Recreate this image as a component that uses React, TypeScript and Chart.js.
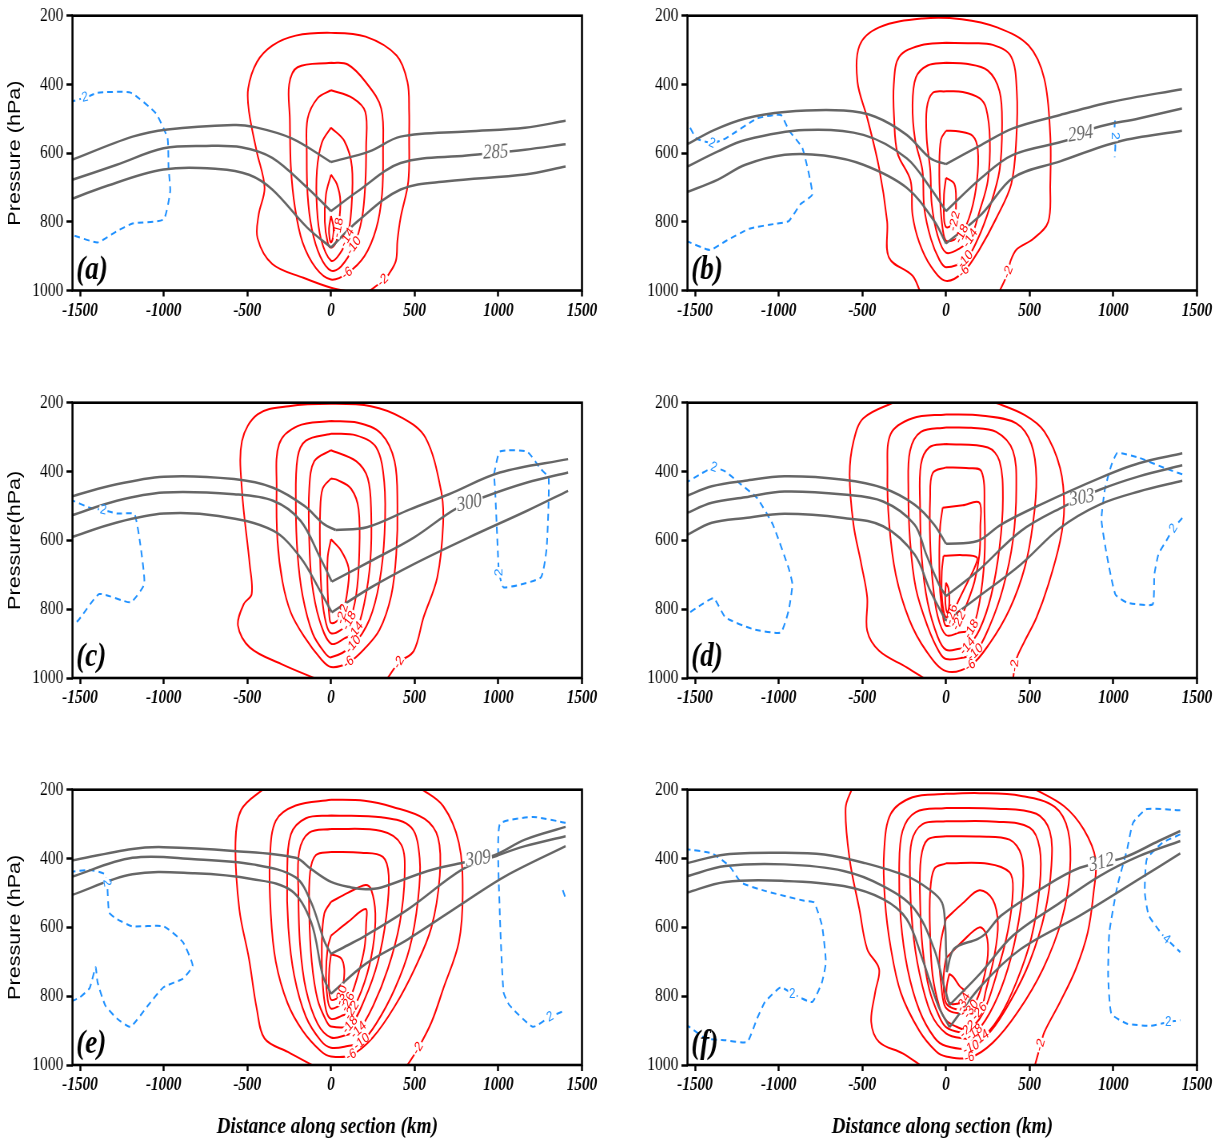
import React, { useEffect, useRef } from "react";
import { Chart, registerables } from "chart.js";

Chart.register(...registerables);

type Pt = [number, number]; // [distance km, pressure hPa]
type Label = [string, number, number, number]; // text, km, hPa, angle (deg)

const X_TICKS = [-1500, -1000, -500, 0, 500, 1000, 1500];
const P_TICKS = [200, 400, 600, 800, 1000];
const X_MIN = -1545;
const X_MAX = 1500;

// ---------- (a) ----------
const greyA: Pt[][] = [
  [[-1560, 622], [-1186, 552], [-977, 531], [-583, 518], [-467, 523], [-235, 557], [0, 626]],
  [[0, 626], [230, 595], [416, 552], [810, 537], [1159, 526], [1402, 506]],
  [[-1560, 680], [-1280, 634], [-1001, 586], [-745, 579], [-536, 583], [-351, 614], [-142, 701], [0, 769]],
  [[0, 769], [160, 711], [416, 629], [810, 607], [1159, 590], [1402, 574]],
  [[-1560, 736], [-1372, 701], [-1001, 648], [-676, 646], [-490, 663], [-351, 706], [-142, 817], [0, 875]],
  [[0, 875], [160, 798], [416, 706], [694, 682], [1159, 662], [1402, 639]],
];
const redA: Pt[][] = [
  [[125, 1005], [0, 992], [-165, 963], [-351, 923], [-439, 848], [-432, 778], [-397, 701], [-444, 595], [-490, 480], [-495, 412], [-443, 335], [-351, 287], [-211, 258], [0, 250], [207, 261], [392, 316], [457, 393], [467, 480], [467, 547], [462, 682], [416, 788], [397, 855], [388, 913], [346, 952], [311, 971], [220, 1005]],
  [[0, 337], [-200, 350], [-250, 400], [-246, 500], [-240, 640], [-215, 760], [-170, 860], [-90, 935], [0, 968], [97, 950], [200, 900], [270, 820], [305, 720], [311, 600], [300, 470], [207, 393], [100, 342], [0, 337]],
  [[0, 417], [-80, 440], [-140, 500], [-145, 600], [-140, 720], [-115, 820], [-65, 900], [0, 942], [60, 930], [137, 870], [185, 790], [205, 690], [210, 580], [205, 480], [130, 440], [0, 417]],
  [[0, 526], [-55, 570], [-84, 650], [-84, 760], [-60, 850], [0, 913], [50, 895], [97, 846], [122, 760], [125, 640], [80, 565], [0, 526]],
  [[0, 663], [-30, 720], [-37, 800], [-20, 860], [0, 875], [30, 860], [44, 817], [56, 740], [35, 690], [0, 663]],
  [[0, 783], [-12, 820], [-8, 850], [0, 860], [12, 845], [15, 815], [0, 783]],
];
const blueA: Pt[][] = [
  [[-1560, 451], [-1453, 436], [-1395, 424], [-1198, 424], [-1047, 484], [-977, 557], [-971, 643], [-961, 711], [-1000, 793], [-1186, 805], [-1279, 827], [-1395, 860], [-1560, 836]],
];
const redLabA: Label[] = [["-18", 44, 817, -80], ["-14", 97, 846, -62], ["-10", 137, 870, -55], ["-6", 97, 950, -40], ["-2", 311, 971, -45]];
const greyLabA: Label[] = [["285", 985, 598, -4]];
const blueLabA: Label[] = [["2", -1470, 438, -15]];

// ---------- (b) ----------
const greyB: Pt[][] = [
  [[-1560, 578], [-1387, 533], [-1199, 499], [-964, 480], [-611, 476], [-423, 494], [-235, 547], [-94, 615], [0, 632]],
  [[0, 632], [212, 576], [400, 528], [682, 489], [987, 451], [1410, 414]],
  [[-1560, 643], [-1363, 595], [-1199, 562], [-846, 533], [-494, 547], [-235, 615], [-94, 701], [0, 769]],
  [[0, 769], [212, 672], [400, 605], [729, 562], [893, 526], [1152, 499], [1410, 470]],
  [[-1560, 716], [-1363, 677], [-1199, 634], [-964, 605], [-729, 607], [-494, 634], [-235, 701], [-70, 798], [0, 863]],
  [[0, 863], [212, 778], [400, 672], [682, 624], [1034, 566], [1410, 535]],
];
const redB: Pt[][] = [
  [[-153, 1005], [-200, 957], [-341, 904], [-352, 798], [-400, 643], [-470, 499], [-529, 393], [-517, 287], [-400, 234], [-141, 208], [94, 210], [305, 234], [494, 287], [587, 383], [623, 547], [623, 692], [611, 800], [520, 850], [423, 880], [385, 915], [371, 947], [317, 1005]],
  [[0, 279], [-150, 286], [-280, 320], [-312, 400], [-310, 500], [-290, 600], [-212, 680], [-200, 780], [-160, 860], [-90, 930], [0, 972], [106, 945], [200, 880], [300, 790], [390, 690], [420, 560], [423, 420], [390, 320], [280, 285], [150, 280], [0, 279]],
  [[0, 337], [-110, 345], [-180, 380], [-200, 460], [-185, 560], [-141, 650], [-130, 760], [-90, 850], [-40, 910], [0, 932], [117, 910], [190, 850], [260, 760], [320, 650], [335, 520], [320, 420], [250, 360], [120, 340], [0, 337]],
  [[0, 420], [-80, 425], [-115, 470], [-115, 560], [-94, 650], [-85, 750], [-50, 840], [0, 890], [80, 878], [146, 848], [200, 770], [250, 680], [262, 560], [240, 470], [200, 440], [100, 422], [0, 420]],
  [[0, 535], [-30, 560], [-40, 640], [-35, 740], [-20, 820], [0, 855], [50, 852], [94, 836], [150, 770], [185, 680], [190, 590], [160, 550], [80, 537], [0, 535]],
  [[0, 672], [-12, 720], [-12, 790], [0, 815], [30, 812], [52, 798], [60, 740], [50, 690], [0, 672]],
];
const blueB: Pt[][] = [
  [[-1560, 497], [-1492, 557], [-1398, 571], [-1316, 557], [-1128, 499], [-987, 489], [-940, 533], [-858, 586], [-799, 720], [-870, 749], [-940, 798], [-1011, 805], [-1175, 820], [-1316, 856], [-1410, 882], [-1560, 854]],
  [[1010, 505], [1005, 545], [1012, 580], [1008, 612]],
];
const redLabB: Label[] = [["-22", 52, 798, -78], ["-18", 94, 836, -65], ["-14", 146, 848, -58], ["-10", 117, 910, -50], ["-6", 106, 945, -45], ["-2", 371, 947, -70]];
const greyLabB: Label[] = [["294", 805, 545, -10]];
const blueLabB: Label[] = [["2", -1398, 571, 25], ["2", 1008, 550, 90]];

// ---------- (c) ----------
const greyC: Pt[][] = [
  [[-1560, 474], [-1326, 442], [-999, 415], [-579, 422], [-346, 447], [-159, 500], [-42, 553], [28, 570]],
  [[28, 570], [215, 562], [472, 510], [705, 466], [1009, 403], [1417, 364]],
  [[-1560, 529], [-1280, 485], [-999, 461], [-579, 466], [-346, 485], [-182, 543], [-65, 650], [5, 720]],
  [[5, 720], [238, 660], [495, 592], [740, 510], [915, 474], [1172, 432], [1417, 403]],
  [[-1560, 592], [-1280, 548], [-999, 522], [-672, 529], [-346, 572], [-182, 650], [-65, 747], [5, 809]],
  [[5, 809], [238, 737], [495, 669], [822, 592], [1172, 514], [1417, 456]],
];
const redC: Pt[][] = [
  [[-77, 1005], [-299, 959], [-486, 911], [-556, 848], [-521, 785], [-474, 756], [-486, 669], [-532, 456], [-532, 311], [-439, 234], [-252, 210], [0, 203], [238, 210], [425, 244], [565, 302], [658, 456], [670, 553], [635, 708], [553, 824], [495, 921], [406, 955], [332, 1005]],
  [[0, 253], [-200, 268], [-310, 320], [-325, 450], [-320, 600], [-290, 720], [-240, 810], [-160, 880], [-60, 945], [0, 968], [105, 955], [200, 915], [290, 860], [360, 760], [390, 640], [397, 500], [380, 370], [300, 290], [160, 258], [0, 253]],
  [[0, 290], [-150, 310], [-200, 360], [-210, 500], [-200, 640], [-170, 760], [-110, 870], [-40, 925], [0, 940], [133, 903], [230, 830], [290, 720], [320, 580], [318, 430], [270, 330], [150, 295], [0, 290]],
  [[0, 338], [-100, 370], [-130, 450], [-130, 600], [-115, 720], [-70, 830], [0, 900], [80, 885], [149, 863], [200, 780], [235, 660], [240, 520], [220, 420], [150, 370], [0, 338]],
  [[0, 420], [-50, 450], [-65, 520], [-65, 650], [-55, 760], [-30, 840], [0, 870], [60, 860], [110, 834], [150, 760], [168, 650], [165, 510], [120, 450], [40, 425], [0, 420]],
  [[0, 597], [-20, 650], [-20, 750], [-10, 820], [0, 840], [40, 833], [70, 814], [100, 740], [105, 680], [60, 630], [0, 597]],
];
const blueC: Pt[][] = [
  [[-1560, 481], [-1443, 505], [-1361, 512], [-1280, 522], [-1175, 524], [-1140, 611], [-1116, 727], [-1198, 780], [-1385, 756], [-1513, 834], [-1560, 843]],
  [[974, 408], [1009, 342], [1172, 342], [1254, 393], [1301, 418], [1289, 621], [1254, 708], [1032, 737], [1004, 693], [997, 631], [981, 456], [974, 408]],
];
const redLabC: Label[] = [["-22", 70, 814, -75], ["-18", 110, 834, -62], ["-14", 149, 863, -55], ["-10", 133, 903, -50], ["-6", 105, 955, -38], ["-2", 406, 955, -60]];
const greyLabC: Label[] = [["300", 827, 492, -12]];
const blueLabC: Label[] = [["2", -1361, 512, 15], ["2", 1004, 693, -90]];

// ---------- (d) ----------
const greyD: Pt[][] = [
  [[-1560, 473], [-1400, 443], [-1200, 427], [-965, 414], [-612, 424], [-376, 448], [-188, 496], [-71, 554], [0, 610]],
  [[0, 610], [188, 602], [329, 554], [565, 496], [918, 419], [1153, 376], [1412, 347]],
  [[-1560, 523], [-1400, 491], [-1200, 475], [-965, 458], [-612, 467], [-376, 487], [-188, 554], [-118, 641], [-40, 730], [0, 762]],
  [[0, 762], [188, 690], [447, 573], [706, 501], [918, 453], [1153, 414], [1412, 382]],
  [[-1560, 588], [-1400, 549], [-1200, 535], [-965, 523], [-612, 535], [-376, 559], [-188, 641], [-94, 747], [0, 834]],
  [[0, 834], [188, 766], [447, 670], [682, 564], [918, 496], [1153, 458], [1412, 427]],
];
const redD: Pt[][] = [
  [[-294, 195], [-494, 245], [-553, 313], [-576, 409], [-553, 554], [-506, 670], [-471, 766], [-471, 863], [-400, 921], [-235, 969], [-118, 1005]],
  [[271, 195], [471, 236], [588, 284], [682, 390], [706, 506], [682, 602], [612, 728], [541, 824], [471, 892], [424, 940], [412, 964], [400, 1005]],
  [[0, 234], [-200, 245], [-330, 290], [-350, 400], [-340, 550], [-300, 700], [-220, 830], [-120, 920], [0, 980], [146, 964], [260, 900], [380, 800], [470, 680], [520, 550], [540, 420], [510, 320], [420, 260], [220, 238], [0, 234]],
  [[0, 272], [-150, 285], [-215, 340], [-225, 450], [-215, 600], [-180, 740], [-110, 850], [-40, 925], [0, 945], [90, 942], [176, 926], [260, 850], [340, 740], [400, 600], [420, 450], [400, 340], [300, 285], [150, 273], [0, 272]],
  [[0, 320], [-100, 330], [-150, 380], [-155, 500], [-145, 650], [-110, 780], [-50, 880], [0, 918], [80, 915], [129, 908], [200, 860], [270, 760], [320, 620], [340, 480], [320, 370], [250, 330], [0, 320]],
  [[0, 388], [-80, 405], [-95, 480], [-95, 600], [-80, 720], [-50, 820], [0, 875], [80, 868], [153, 858], [200, 780], [230, 650], [230, 520], [212, 400], [120, 390], [0, 388]],
  [[-20, 505], [-35, 560], [-40, 650], [-35, 750], [-15, 830], [0, 848], [50, 843], [78, 834], [120, 790], [170, 720], [200, 640], [205, 560], [200, 491], [100, 498], [-20, 505]],
  [[-15, 645], [-25, 690], [-25, 760], [-10, 815], [10, 825], [35, 815], [80, 770], [130, 720], [170, 680], [185, 650], [100, 643], [-15, 645]],
  [[0, 723], [-5, 760], [0, 800], [10, 810], [20, 780], [15, 740], [0, 723]],
];
const blueD: Pt[][] = [
  [[-1560, 434], [-1459, 405], [-1388, 388], [-1318, 400], [-1224, 438], [-1129, 477], [-1035, 554], [-941, 680], [-918, 728], [-941, 805], [-988, 868], [-1153, 858], [-1318, 824], [-1388, 768], [-1459, 786], [-1560, 819]],
  [[1412, 408], [1318, 392], [1153, 360], [1024, 346], [988, 382], [950, 450], [929, 540], [960, 640], [1012, 757], [1082, 781], [1235, 786], [1245, 700], [1270, 640], [1318, 600], [1360, 565], [1412, 535]],
];
const redLabD: Label[] = [["-26", 35, 815, -75], ["-22", 78, 834, -65], ["-18", 153, 858, -60], ["-14", 129, 908, -50], ["-10", 176, 926, -45], ["-6", 146, 964, -35], ["-2", 412, 964, -85]];
const greyLabD: Label[] = [["303", 812, 477, -10]];
const blueLabD: Label[] = [["2", -1388, 388, 20], ["2", 1360, 565, -60]];

// ---------- (e) ----------
const greyE: Pt[][] = [
  [[-1560, 407], [-1187, 372], [-1001, 367], [-583, 378], [-211, 398], [-118, 431], [0, 468], [120, 484], [207, 489], [300, 484], [578, 436], [787, 412], [973, 391], [1159, 345], [1402, 308]],
  [[-1560, 455], [-1187, 398], [-815, 402], [-467, 417], [-211, 455], [-118, 528], [-40, 640], [0, 677]],
  [[0, 677], [100, 652], [207, 624], [462, 547], [787, 431], [996, 391], [1159, 364], [1402, 335]],
  [[-1560, 508], [-1187, 446], [-815, 443], [-467, 460], [-235, 494], [-118, 586], [-49, 740], [0, 793]],
  [[0, 793], [207, 706], [462, 634], [810, 523], [1043, 451], [1402, 364]],
];
const redE: Pt[][] = [
  [[-397, 195], [-536, 258], [-571, 354], [-548, 547], [-490, 692], [-444, 836], [-397, 923], [-258, 962], [-95, 1005]],
  [[532, 195], [671, 248], [764, 354], [787, 499], [764, 643], [671, 778], [601, 875], [520, 952], [450, 1005]],
  [[0, 229], [-211, 246], [-330, 290], [-365, 400], [-360, 560], [-330, 700], [-260, 820], [-170, 900], [-60, 960], [0, 975], [121, 971], [250, 920], [380, 830], [500, 720], [600, 600], [650, 450], [640, 340], [560, 285], [369, 250], [200, 232], [0, 229]],
  [[0, 275], [-150, 283], [-240, 330], [-262, 450], [-255, 600], [-220, 740], [-150, 860], [-60, 930], [0, 950], [100, 945], [183, 933], [270, 880], [380, 780], [470, 660], [520, 520], [530, 400], [480, 310], [300, 280], [0, 275]],
  [[0, 314], [-130, 325], [-190, 380], [-195, 500], [-185, 650], [-150, 780], [-80, 880], [0, 920], [90, 913], [165, 899], [250, 830], [340, 720], [410, 590], [440, 450], [420, 360], [300, 320], [0, 314]],
  [[0, 381], [-90, 390], [-125, 440], [-130, 560], [-115, 700], [-80, 810], [-30, 870], [0, 888], [114, 884], [200, 810], [280, 700], [330, 570], [345, 450], [310, 395], [180, 383], [0, 381]],
  [[0, 526], [-40, 560], [-55, 650], [-50, 760], [-30, 840], [0, 866], [60, 858], [125, 841], [200, 760], [250, 660], [265, 560], [240, 490], [207, 477], [100, 500], [0, 526]],
  [[0, 624], [-20, 660], [-30, 740], [-20, 810], [0, 836], [50, 828], [102, 817], [160, 740], [200, 660], [210, 590], [207, 547], [100, 585], [0, 624]],
  [[0, 678], [-10, 720], [-12, 780], [0, 810], [30, 808], [63, 795], [75, 760], [79, 720], [60, 690], [0, 678]],
];
const blueE: Pt[][] = [
  [[-1560, 439], [-1442, 433], [-1349, 446], [-1337, 480], [-1326, 557], [-1279, 576], [-1187, 597], [-1001, 597], [-885, 643], [-827, 711], [-885, 749], [-1001, 774], [-1094, 827], [-1198, 889], [-1279, 865], [-1349, 827], [-1395, 760], [-1407, 716], [-1442, 776], [-1500, 803], [-1560, 817]],
  [[1402, 296], [1206, 279], [1008, 301], [1008, 547], [1031, 788], [1066, 826], [1206, 889], [1310, 860], [1402, 841]],
  [[1385, 492], [1402, 515]],
];
const redLabE: Label[] = [["-30", 63, 797, -75], ["-26", 102, 817, -65], ["-22", 125, 841, -60], ["-18", 114, 884, -50], ["-14", 165, 899, -45], ["-10", 183, 933, -40], ["-6", 121, 971, -30], ["-2", 520, 952, -60]];
const greyLabE: Label[] = [["309", 880, 402, -10]];
const blueLabE: Label[] = [["2", -1340, 470, 80], ["2", 1310, 860, -30]];

// ---------- (f) ----------
const greyF: Pt[][] = [
  [[-1560, 415], [-1318, 388], [-965, 383], [-729, 388], [-494, 412], [-235, 451], [-100, 490], [-24, 528], [-5, 595], [0, 663], [5, 730]],
  [[5, 730], [47, 663], [188, 634], [235, 619], [329, 566], [565, 489], [800, 427], [1059, 398], [1271, 349], [1400, 320]],
  [[-1560, 453], [-1318, 422], [-965, 417], [-612, 436], [-376, 480], [-188, 547], [-71, 663], [-12, 770], [21, 826]],
  [[21, 826], [212, 730], [400, 624], [682, 528], [918, 451], [1153, 393], [1400, 349]],
  [[-1560, 501], [-1318, 468], [-965, 465], [-612, 480], [-376, 518], [-235, 576], [-141, 692], [-47, 827], [21, 890]],
  [[21, 890], [212, 769], [447, 663], [800, 566], [1153, 460], [1400, 385]],
];
const redF: Pt[][] = [
  [[-560, 195], [-600, 253], [-576, 402], [-518, 547], [-471, 663], [-400, 721], [-423, 788], [-447, 875], [-400, 933], [-259, 966], [-141, 1005]],
  [[518, 195], [706, 248], [824, 316], [894, 402], [882, 499], [847, 615], [776, 721], [682, 817], [588, 904], [565, 942], [529, 1005]],
  [[0, 212], [-200, 222], [-330, 270], [-370, 380], [-365, 520], [-330, 660], [-270, 790], [-160, 900], [-60, 960], [0, 975], [140, 979], [280, 935], [430, 845], [580, 720], [690, 580], [740, 440], [730, 320], [650, 250], [450, 218], [200, 210], [0, 212]],
  [[0, 253], [-180, 265], [-260, 320], [-280, 430], [-270, 580], [-230, 720], [-160, 840], [-70, 920], [0, 945], [150, 950], [270, 900], [390, 810], [500, 700], [590, 560], [630, 420], [620, 320], [540, 270], [300, 255], [0, 253]],
  [[0, 292], [-140, 300], [-205, 350], [-215, 460], [-200, 600], [-160, 730], [-90, 850], [0, 908], [100, 922], [210, 921], [320, 860], [420, 760], [510, 630], [560, 480], [560, 370], [500, 310], [300, 293], [0, 292]],
  [[0, 335], [-110, 345], [-150, 400], [-155, 520], [-140, 660], [-100, 780], [-40, 860], [0, 890], [80, 905], [170, 906], [260, 850], [350, 750], [420, 620], [460, 480], [450, 390], [380, 345], [200, 336], [0, 335]],
  [[0, 414], [-70, 430], [-95, 500], [-95, 620], [-80, 740], [-40, 830], [0, 870], [60, 888], [129, 897], [220, 850], [300, 740], [370, 610], [400, 490], [380, 440], [250, 415], [0, 414]],
  [[0, 575], [100, 530], [200, 492], [280, 520], [310, 590], [290, 680], [240, 780], [200, 845], [100, 850], [30, 845], [-10, 825], [-30, 760], [-40, 700], [-30, 640], [0, 575]],
  [[0, 690], [100, 640], [200, 600], [240, 620], [250, 680], [220, 760], [180, 815], [150, 838], [60, 838], [0, 820], [-15, 760], [-10, 720], [0, 690]],
  [[20, 735], [5, 770], [5, 805], [30, 822], [70, 822], [105, 815], [120, 790], [80, 770], [45, 745], [20, 735]],
];
const blueF: Pt[][] = [
  [[-1560, 372], [-1398, 385], [-1294, 422], [-1224, 470], [-1082, 494], [-847, 523], [-788, 528], [-741, 595], [-718, 701], [-741, 759], [-800, 817], [-918, 793], [-988, 774], [-1082, 817], [-1129, 865], [-1188, 933], [-1318, 928], [-1435, 923], [-1560, 880]],
  [[1400, 260], [1200, 256], [1118, 296], [1082, 374], [1024, 480], [976, 615], [969, 740], [988, 851], [1082, 880], [1224, 886], [1329, 875], [1400, 870]],
  [[1400, 330], [1294, 354], [1200, 402], [1188, 499], [1212, 566], [1294, 622], [1318, 634], [1400, 672]],
];
const redLabF: Label[] = [["-34", 105, 818, -65], ["-30", 150, 838, -55], ["-26", 200, 845, -50], ["-22", 129, 897, -45], ["-18", 170, 906, -40], ["-14", 210, 921, -35], ["-10", 150, 950, -25], ["-6", 140, 979, -15], ["-2", 565, 942, -75]];
const greyLabF: Label[] = [["312", 930, 412, -15]];
const blueLabF: Label[] = [["2", -918, 793, 0], ["2", 1329, 875, 0], ["4", 1318, 634, 45]];

// ---------- layout ----------
const SX = 0.8; // horizontal squeeze applied to each canvas
const CANVAS_W = 750; // internal width (600 px on screen)
const Y_AXIS_W = 90.625;
const PAD_RIGHT = 22.5;
const SERIF = '"Liberation Serif", "Times New Roman", serif';
const SANS = '"Liberation Sans", Arial, sans-serif';
const RED = "#ff0000";
const GREY = "#666666";
const BLUE = "#1e90ff";

interface Panel {
  tag: string;
  left: number;
  top: number;
  h: number;
  padTop: number;
  xAxisH: number;
  yTitle: string;
  xTitle: boolean;
  grey: Pt[][];
  red: Pt[][];
  blue: Pt[][];
  greyLab: Label[];
  redLab: Label[];
  blueLab: Label[];
}

const panels: Panel[] = [
  { tag: "a", left: 0, top: 0, h: 331, padTop: 13.5, xAxisH: 40.5, yTitle: "Pressure (hPa)", xTitle: false, grey: greyA, red: redA, blue: blueA, greyLab: greyLabA, redLab: redLabA, blueLab: blueLabA },
  { tag: "b", left: 615, top: 0, h: 331, padTop: 13.5, xAxisH: 40.5, yTitle: "", xTitle: false, grey: greyB, red: redB, blue: blueB, greyLab: greyLabB, redLab: redLabB, blueLab: blueLabB },
  { tag: "c", left: 0, top: 387, h: 331, padTop: 14, xAxisH: 40, yTitle: "Pressure(hPa)", xTitle: false, grey: greyC, red: redC, blue: blueC, greyLab: greyLabC, redLab: redLabC, blueLab: blueLabC },
  { tag: "d", left: 615, top: 387, h: 331, padTop: 14, xAxisH: 40, yTitle: "", xTitle: false, grey: greyD, red: redD, blue: blueD, greyLab: greyLabD, redLab: redLabD, blueLab: blueLabD },
  { tag: "e", left: 0, top: 774, h: 369, padTop: 14.3, xAxisH: 78, yTitle: "Pressure (hPa)", xTitle: true, grey: greyE, red: redE, blue: blueE, greyLab: greyLabE, redLab: redLabE, blueLab: blueLabE },
  { tag: "f", left: 615, top: 774, h: 369, padTop: 14.3, xAxisH: 78, yTitle: "", xTitle: true, grey: greyF, red: redF, blue: blueF, greyLab: greyLabF, redLab: redLabF, blueLab: blueLabF },
];

// screen angle -> angle inside the squeezed canvas
function innerAngle(deg: number): number {
  const r = (deg * Math.PI) / 180;
  return Math.atan2(Math.sin(r), Math.cos(r) / SX);
}

function drawLabels(ctx: CanvasRenderingContext2D, xs: any, ys: any, labels: Label[], font: string, color: string, boxH: number) {
  for (const [t, km, p, ang] of labels) {
    const px = xs.getPixelForValue(km);
    const py = ys.getPixelForValue(p);
    ctx.save();
    ctx.translate(px, py);
    ctx.rotate(innerAngle(ang));
    ctx.font = font;
    const w = ctx.measureText(t).width;
    ctx.fillStyle = "#ffffff";
    ctx.fillRect(-w / 2 - 1.5, -boxH / 2, w + 3, boxH);
    ctx.fillStyle = color;
    ctx.textAlign = "center";
    ctx.textBaseline = "middle";
    ctx.fillText(t, 0, 0);
    ctx.restore();
  }
}

function makeOverlay(panel: Panel) {
  return {
    id: "overlay-" + panel.tag,
    afterDatasetsDraw(chart: any) {
      const { ctx, chartArea: ca, scales } = chart;
      const xs = scales.x;
      const ys = scales.y;
      ctx.save();
      ctx.beginPath();
      ctx.rect(ca.left, ca.top, ca.right - ca.left, ca.bottom - ca.top);
      ctx.clip();
      drawLabels(ctx, xs, ys, panel.redLab, `14px ${SANS}`, RED, 8);
      drawLabels(ctx, xs, ys, panel.blueLab, `14px ${SANS}`, BLUE, 8);
      drawLabels(ctx, xs, ys, panel.greyLab, `italic 21px ${SERIF}`, GREY, 11);
      ctx.restore();

      // panel letter
      ctx.save();
      ctx.font = `italic bold 34px ${SERIF}`;
      ctx.fillStyle = "#000";
      ctx.textAlign = "left";
      ctx.textBaseline = "alphabetic";
      ctx.fillText(`(${panel.tag})`, ca.left + 4.5, ca.bottom - 12);
      ctx.restore();

      // frame
      ctx.save();
      ctx.strokeStyle = "#000";
      ctx.lineWidth = 2.6;
      ctx.strokeRect(ca.left, ca.top, ca.right - ca.left, ca.bottom - ca.top);
      ctx.restore();
    },
  };
}

function lineSet(pts: Pt[], color: string, width: number, tension: number, dash: number[] = []) {
  return {
    data: pts.map(([x, y]) => ({ x, y })),
    showLine: true,
    borderColor: color,
    borderWidth: width,
    borderDash: dash,
    borderJoinStyle: "round",
    borderCapStyle: "butt",
    pointRadius: 0,
    pointHoverRadius: 0,
    tension,
    fill: false,
  };
}

function PanelChart({ panel }: { panel: Panel }) {
  const ref = useRef<HTMLCanvasElement>(null);

  useEffect(() => {
    const canvas = ref.current;
    if (!canvas) return;
    // grey first so it is painted on top
    const datasets = [
      ...panel.grey.map((l) => lineSet(l, GREY, 2.5, 0.35)),
      ...panel.blue.map((l) => lineSet(l, BLUE, 2, 0.15, [7, 5])),
      ...panel.red.map((l) => lineSet(l, RED, 2, 0.35)),
    ];
    const chart = new Chart(canvas, {
      type: "scatter",
      data: { datasets } as any,
      plugins: [makeOverlay(panel)],
      options: {
        animation: false,
        responsive: false,
        devicePixelRatio: 1,
        events: [],
        layout: { padding: { left: 0, right: PAD_RIGHT, top: panel.padTop, bottom: 0 } },
        plugins: { legend: { display: false }, tooltip: { enabled: false } },
        scales: {
          x: {
            type: "linear",
            min: X_MIN,
            max: X_MAX,
            afterBuildTicks: (s: any) => {
              s.ticks = X_TICKS.map((v) => ({ value: v }));
            },
            afterFit: (s: any) => {
              s.height = panel.xAxisH;
            },
            grid: { drawOnChartArea: false, drawTicks: true, tickLength: 6, tickWidth: 2.5, tickColor: "#000", color: "#000" },
            border: { display: false },
            ticks: {
              color: "#000",
              padding: 3,
              maxRotation: 0,
              autoSkip: false,
              font: { family: SERIF, size: 19, style: "italic", weight: "bold" },
              callback: (v: any) => String(v),
            },
            title: {
              display: panel.xTitle,
              text: "Distance along section (km)",
              color: "#000",
              font: { family: SERIF, size: 24, style: "italic", weight: "bold" },
              padding: { top: 0, bottom: 2 },
            },
          },
          y: {
            type: "linear",
            reverse: true,
            min: 200,
            max: 1000,
            afterBuildTicks: (s: any) => {
              s.ticks = P_TICKS.map((v) => ({ value: v }));
            },
            afterFit: (s: any) => {
              s.width = Y_AXIS_W;
            },
            grid: { drawOnChartArea: false, drawTicks: true, tickLength: 7.5, tickWidth: 2.5, tickColor: "#000", color: "#000" },
            border: { display: false },
            ticks: {
              color: "#000",
              padding: 4,
              autoSkip: false,
              font: { family: SERIF, size: 19.5 },
              callback: (v: any) => String(v),
            },
            title: {
              display: panel.yTitle !== "",
              text: panel.yTitle,
              color: "#000",
              font: { family: SANS, size: 21.6 },
              padding: { top: 6.4, bottom: 0 },
            },
          },
        },
      } as any,
    });
    return () => chart.destroy();
  }, [panel]);

  return (
    <canvas
      ref={ref}
      width={CANVAS_W}
      height={panel.h}
      style={{
        position: "absolute",
        left: panel.left,
        top: panel.top,
        transform: `scaleX(${SX})`,
        transformOrigin: "0 0",
      }}
    />
  );
}

export default function App() {
  return (
    <div style={{ position: "absolute", left: 0, top: 0, width: 1227, height: 1143, background: "#ffffff", overflow: "hidden" }}>
      {panels.map((p) => (
        <PanelChart key={p.tag} panel={p} />
      ))}
    </div>
  );
}
